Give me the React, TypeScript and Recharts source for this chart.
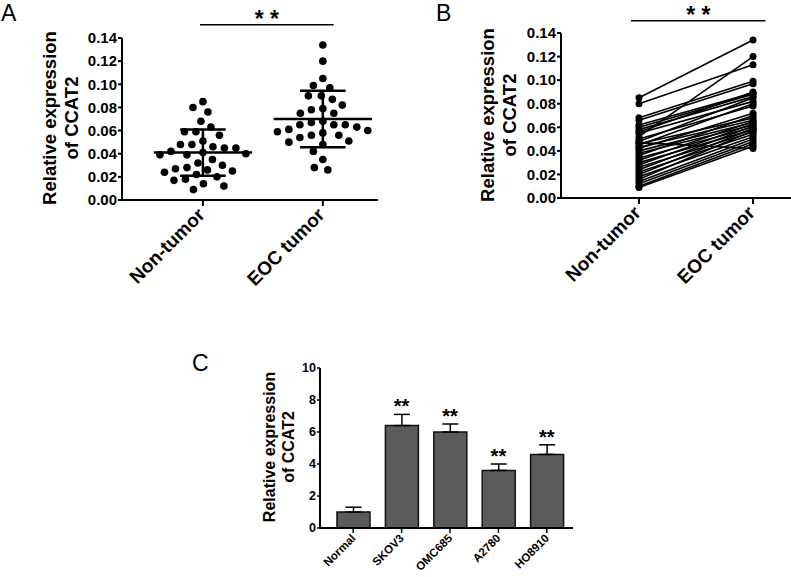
import React from 'react';
import {
  ScatterChart,
  Scatter,
  LineChart,
  Line,
  ComposedChart,
  Bar,
  ErrorBar,
  XAxis,
  YAxis,
  ReferenceLine,
} from 'recharts';

const FONT = '"Liberation Sans", Arial, Helvetica, sans-serif';

const groups = ['Non-tumor', 'EOC tumor'];

// A: individual samples per group
const nonTumorA = [
  0.085, 0.08, 0.076, 0.068, 0.063, 0.059, 0.059, 0.056, 0.051, 0.048, 0.048, 0.046,
  0.045, 0.045, 0.042, 0.041, 0.04, 0.039, 0.039, 0.035, 0.032, 0.03, 0.028, 0.027,
  0.026, 0.025, 0.024, 0.022, 0.02, 0.018, 0.017, 0.014, 0.012, 0.009,
];
const tumorA = [
  0.134, 0.12, 0.105, 0.099, 0.097, 0.09, 0.09, 0.087, 0.082, 0.079, 0.078, 0.075,
  0.075, 0.068, 0.067, 0.065, 0.065, 0.065, 0.063, 0.061, 0.06, 0.059, 0.058, 0.056,
  0.056, 0.054, 0.051, 0.05, 0.048, 0.042, 0.035, 0.028, 0.026,
];
const meanA = [0.041, 0.07];
const sdA = [0.02, 0.0245];

// B: paired samples (same index = same patient)
const nonTumorB = [
  0.085, 0.08, 0.052, 0.068, 0.066, 0.062, 0.06, 0.058, 0.056, 0.055, 0.05, 0.048,
  0.047, 0.046, 0.045, 0.043, 0.042, 0.04, 0.038, 0.036, 0.034, 0.032, 0.03, 0.028,
  0.026, 0.024, 0.022, 0.02, 0.018, 0.016, 0.014, 0.012, 0.01, 0.009,
];
const tumorB = [
  0.134, 0.113, 0.12, 0.099, 0.097, 0.089, 0.088, 0.086, 0.09, 0.082, 0.078, 0.085,
  0.042, 0.068, 0.08, 0.066, 0.072, 0.064, 0.062, 0.07, 0.06, 0.065, 0.058, 0.063,
  0.056, 0.061, 0.054, 0.059, 0.052, 0.057, 0.05, 0.048, 0.046, 0.044,
];

// C: cell lines
const cellLines = ['Normal', 'SKOV3', 'OMC685', 'A2780', 'HO8910'];
const expression = [1.0, 6.4, 6.0, 3.6, 4.6];
const expressionErr = [0.3, 0.7, 0.5, 0.4, 0.6];
const significance = ['', '**', '**', '**', '**'];

// spread dots sideways so they don't overlap (GraphPad-style scatter)
function swarm(values: number[], center: number, pxPerY: number, pxPerX: number, gap: number) {
  const placed: { dx: number; py: number }[] = [];
  const sorted = [...values].sort((a, b) => b - a);
  return sorted.map((v) => {
    const py = v * pxPerY;
    let dx = 0;
    for (let k = 0; k < 600; k++) {
      const cand = (k % 2 ? -1 : 1) * Math.ceil(k / 2) * 0.5;
      if (placed.every((p) => Math.hypot(p.dx - cand, p.py - py) >= gap)) {
        dx = cand;
        break;
      }
    }
    placed.push({ dx, py });
    return { x: center + dx / pxPerX, y: v };
  });
}

const pointsA = [
  ...swarm(nonTumorA, 0, 1157, 120, 11.5),
  ...swarm(tumorA, 1, 1157, 120, 11.5),
];

const pairedRows = [0, 1].map((g) => {
  const row: Record<string, number> = { x: g };
  (g === 0 ? nonTumorB : tumorB).forEach((v, i) => (row['p' + i] = v));
  return row;
});

const barRows = cellLines.map((name, i) => ({
  name,
  value: expression[i],
  err: [0, expressionErr[i]],
  top: expression[i] + expressionErr[i],
  sig: significance[i],
}));

const tickA = [0, 0.02, 0.04, 0.06, 0.08, 0.1, 0.12, 0.14];
const axisStroke = { stroke: '#000', strokeWidth: 2 };

const GroupTick = (props: any) => {
  const { x, y, payload } = props;
  return (
    <text
      x={x + 3}
      y={y + 8}
      transform={`rotate(-45 ${x + 3} ${y + 8})`}
      textAnchor="end"
      fontFamily={FONT}
      fontWeight="bold"
      fontSize={19}
      fill="#000"
    >
      {groups[payload.value]}
    </text>
  );
};

const CellTick = (props: any) => {
  const { x, y, payload } = props;
  return (
    <text
      x={x + 3}
      y={y + 4}
      transform={`rotate(-45 ${x + 3} ${y + 4})`}
      textAnchor="end"
      fontFamily={FONT}
      fontWeight="bold"
      fontSize={11.5}
      fill="#000"
    >
      {payload.value}
    </text>
  );
};

const sigLabel = {
  value: '* *',
  position: 'top' as const,
  offset: -2,
  fontSize: 23,
  fontWeight: 'bold',
  fontFamily: FONT,
  fill: '#000',
};

function PanelA() {
  const summary: any[] = [];
  meanA.forEach((m, i) => {
    const s = sdA[i];
    summary.push(
      <ReferenceLine key={'m' + i} segment={[{ x: i - 0.41, y: m }, { x: i + 0.41, y: m }]} stroke="#000" strokeWidth={2.5} />,
      <ReferenceLine key={'v' + i} segment={[{ x: i, y: m - s }, { x: i, y: m + s }]} stroke="#000" strokeWidth={2.5} />,
      <ReferenceLine key={'t' + i} segment={[{ x: i - 0.19, y: m + s }, { x: i + 0.19, y: m + s }]} stroke="#000" strokeWidth={2.5} />,
      <ReferenceLine key={'b' + i} segment={[{ x: i - 0.19, y: m - s }, { x: i + 0.19, y: m - s }]} stroke="#000" strokeWidth={2.5} />,
    );
  });
  return (
    <ScatterChart width={400} height={300} margin={{ top: 38, right: 22, left: 0, bottom: 0 }}>
      <XAxis
        type="number"
        dataKey="x"
        domain={[-0.675, 1.46]}
        ticks={[0, 1]}
        allowDataOverflow
        height={100}
        axisLine={axisStroke}
        tickLine={axisStroke}
        tickSize={6}
        tick={<GroupTick />}
        interval={0}
      />
      <YAxis
        type="number"
        dataKey="y"
        domain={[0, 0.14]}
        ticks={tickA}
        allowDataOverflow
        width={122}
        axisLine={axisStroke}
        tickLine={axisStroke}
        tickSize={4}
        tickMargin={1}
        tickFormatter={(v: number) => v.toFixed(2)}
        tick={{ fontFamily: FONT, fontWeight: 'bold', fontSize: 15, fill: '#000' }}
        interval={0}
      />
      <Scatter
        data={pointsA}
        isAnimationActive={false}
        shape={(p: any) => <circle cx={p.cx} cy={p.cy} r={3.8} fill="#000" />}
      />
      {summary}
      <ReferenceLine
        segment={[{ x: -0.025, y: 0.1515 }, { x: 1.09, y: 0.1515 }]}
        ifOverflow="visible"
        stroke="#000"
        strokeWidth={1.5}
        label={sigLabel}
      />
    </ScatterChart>
  );
}

function PanelB() {
  return (
    <LineChart width={391} height={300} data={pairedRows} margin={{ top: 33, right: 0, left: 0, bottom: 0 }}>
      <XAxis
        type="number"
        dataKey="x"
        domain={[-0.684, 1.333]}
        ticks={[0, 1]}
        allowDataOverflow
        height={102}
        axisLine={axisStroke}
        tickLine={axisStroke}
        tickSize={6}
        tick={<GroupTick />}
        interval={0}
      />
      <YAxis
        type="number"
        domain={[0, 0.14]}
        ticks={tickA}
        allowDataOverflow
        width={161}
        axisLine={axisStroke}
        tickLine={axisStroke}
        tickSize={4}
        tickMargin={1}
        tickFormatter={(v: number) => v.toFixed(2)}
        tick={{ fontFamily: FONT, fontWeight: 'bold', fontSize: 15, fill: '#000' }}
        interval={0}
      />
      {nonTumorB.map((_, i) => (
        <Line
          key={i}
          dataKey={'p' + i}
          stroke="#000"
          strokeWidth={1.6}
          dot={{ r: 3.5, fill: '#000', stroke: '#000', strokeWidth: 0 }}
          isAnimationActive={false}
        />
      ))}
      <ReferenceLine
        segment={[{ x: -0.07, y: 0.1505 }, { x: 1.11, y: 0.1505 }]}
        ifOverflow="visible"
        stroke="#000"
        strokeWidth={1.5}
        label={sigLabel}
      />
    </LineChart>
  );
}

function PanelC() {
  return (
    <ComposedChart width={400} height={277} data={barRows} margin={{ top: 68, right: 27, left: 0, bottom: 0 }}>
      <XAxis
        dataKey="name"
        type="category"
        padding={{ left: 9, right: 2 }}
        height={49}
        axisLine={axisStroke}
        tickLine={{ stroke: '#000', strokeWidth: 1.5 }}
        tickSize={5}
        tick={<CellTick />}
        interval={0}
      />
      <YAxis
        type="number"
        domain={[0, 10]}
        ticks={[0, 2, 4, 6, 8, 10]}
        width={120}
        axisLine={axisStroke}
        tickLine={{ stroke: '#000', strokeWidth: 1.5 }}
        tickSize={3}
        tickMargin={1}
        tick={{ fontFamily: FONT, fontWeight: 'bold', fontSize: 12.5, fill: '#000' }}
        interval={0}
      />
      <Bar dataKey="value" fill="#5b5b5b" stroke="#111" strokeWidth={1.5} barSize={33} isAnimationActive={false}>
        <ErrorBar dataKey="err" width={8} stroke="#000" strokeWidth={1.5} />
      </Bar>
      <Scatter
        dataKey="top"
        isAnimationActive={false}
        shape={(p: any) =>
          p.payload.sig ? (
            <text
              x={p.cx}
              y={p.cy - 1}
              textAnchor="middle"
              fontFamily={FONT}
              fontWeight="bold"
              fontSize={20}
              fill="#000"
            >
              {p.payload.sig}
            </text>
          ) : (
            <g />
          )
        }
      />
    </ComposedChart>
  );
}

function YTitle({ x, y, size, gap }: { x: number; y: number; size: number; gap: number }) {
  return (
    <g transform={`translate(${x} ${y}) rotate(-90)`}>
      <text textAnchor="middle" y={-gap / 2} dy="0.35em" fontFamily={FONT} fontWeight="bold" fontSize={size} fill="#000">
        Relative expression
      </text>
      <text textAnchor="middle" y={gap / 2} dy="0.35em" fontFamily={FONT} fontWeight="bold" fontSize={size} fill="#000">
        of CCAT2
      </text>
    </g>
  );
}

export default function App() {
  return (
    <div
      style={{
        position: 'absolute',
        left: 0,
        top: 0,
        width: 791,
        height: 577,
        background: '#fff',
        overflow: 'hidden',
      }}
    >
      <div style={{ position: 'absolute', left: 0, top: 0 }}>
        <PanelA />
      </div>
      <div style={{ position: 'absolute', left: 400, top: 0 }}>
        <PanelB />
      </div>
      <div style={{ position: 'absolute', left: 200, top: 300 }}>
        <PanelC />
      </div>
      <svg
        width={791}
        height={577}
        style={{ position: 'absolute', left: 0, top: 0, pointerEvents: 'none' }}
      >
        <text x={1} y={21} fontFamily={FONT} fontSize={23} fill="#000">A</text>
        <text x={436} y={21} fontFamily={FONT} fontSize={23} fill="#000">B</text>
        <text x={192} y={371} fontFamily={FONT} fontSize={23} fill="#000">C</text>
        <YTitle x={61} y={118} size={18.5} gap={22} />
        <YTitle x={499} y={115} size={18.5} gap={22} />
        <YTitle x={278.5} y={447} size={16} gap={19} />
      </svg>
    </div>
  );
}
